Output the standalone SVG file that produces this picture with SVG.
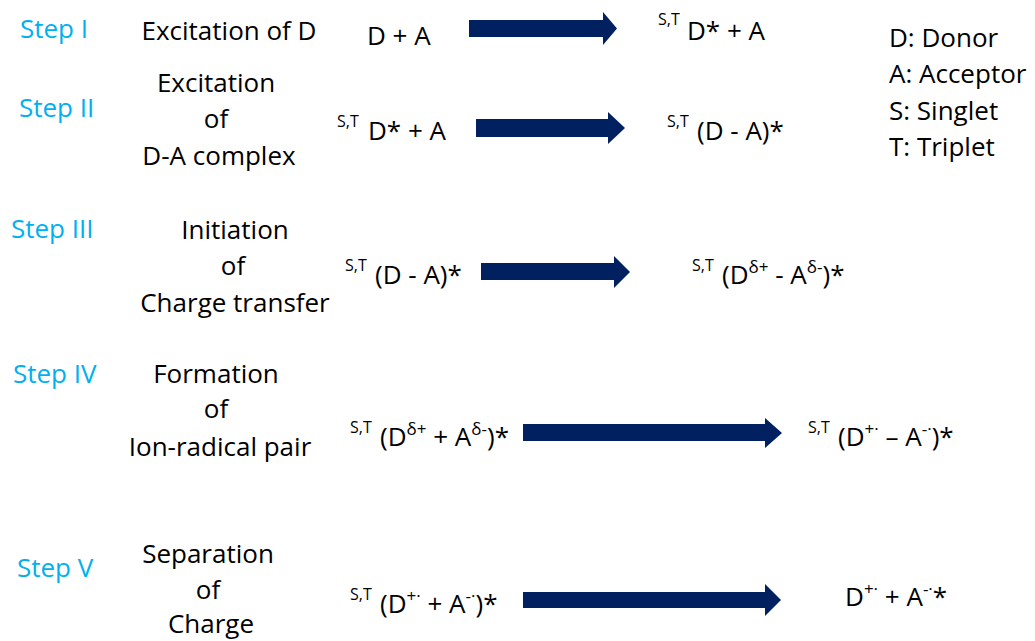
<svg xmlns="http://www.w3.org/2000/svg" width="1035" height="641" viewBox="0 0 1035 641">
<style>
text{font-family:"Open Sans","Noto Sans","Liberation Sans",sans-serif;font-size:26px;fill:#000}
.step{fill:#00B0F0}
.d{text-anchor:middle}
.sup{font-size:16px}
.isup{font-size:17px}
.arrow{fill:#002060}
</style>
<rect width="1035" height="641" fill="#fff"/>
<g id="labels">
<text class="step" x="20" y="38">Step I</text>
<text class="step" x="19" y="117">Step II</text>
<text class="step" x="11" y="238">Step III</text>
<text class="step" x="13" y="383">Step IV</text>
<text class="step" x="17" y="577">Step V</text>
</g>
<g id="desc1"><text class="d" x="229" y="40">Excitation of D</text></g>
<g id="desc2">
<text class="d" x="216" y="92">Excitation</text>
<text class="d" x="216" y="128">of</text>
<text class="d" x="219" y="165">D-A complex</text>
</g>
<g id="desc3">
<text class="d" x="235" y="239">Initiation</text>
<text class="d" x="233" y="275">of</text>
<text class="d" x="235" y="312">Charge transfer</text>
</g>
<g id="desc4">
<text class="d" x="216" y="383">Formation</text>
<text class="d" x="216" y="418">of</text>
<text class="d" x="220" y="456">Ion-radical pair</text>
</g>
<g id="desc5">
<text class="d" x="208" y="563">Separation</text>
<text class="d" x="208" y="599">of</text>
<text class="d" x="211" y="633">Charge</text>
</g>
<g id="legend">
<text x="889" y="47">D: Donor</text>
<text x="889" y="83">A: Acceptor</text>
<text x="889" y="120">S: Singlet</text>
<text x="889" y="156">T: Triplet</text>
</g>
<g id="row1">
<text x="367" y="45">D + A</text>
<text class="sup" x="658" y="25">S,T</text>
<text x="687" y="40">D* + A</text>
</g>
<g id="row2">
<text class="sup" x="337" y="127">S,T</text>
<text x="368" y="140">D* + A</text>
<text class="sup" x="667" y="127">S,T</text>
<text x="697" y="140">(D - A)*</text>
</g>
<g id="row3">
<text class="sup" x="345" y="271">S,T</text>
<text x="375" y="284">(D - A)*</text>
<text class="sup" x="692" y="271">S,T</text>
<text x="722" y="284">(D<tspan class="isup" dy="-11">δ+</tspan><tspan dy="11"> - A</tspan><tspan class="isup" dy="-11">δ-</tspan><tspan dy="11">)*</tspan></text>
</g>
<g id="row4">
<text class="sup" x="350" y="433">S,T</text>
<text x="380" y="446">(D<tspan class="isup" dy="-11">δ+</tspan><tspan dy="11"> + A</tspan><tspan class="isup" dy="-11">δ-</tspan><tspan dy="11">)*</tspan></text>
<text class="sup" x="808" y="433">S,T</text>
<text x="838" y="446">(D<tspan class="isup" dy="-11">+·</tspan><tspan dy="11"> – A</tspan><tspan class="isup" dy="-11">-·</tspan><tspan dy="11">)*</tspan></text>
</g>
<g id="row5">
<text class="sup" x="350" y="600">S,T</text>
<text x="380" y="613">(D<tspan class="isup" dy="-11">+·</tspan><tspan dy="11"> + A</tspan><tspan class="isup" dy="-11">-·</tspan><tspan dy="11">)*</tspan></text>
<text x="845" y="606">D<tspan class="isup" dy="-11">+·</tspan><tspan dy="11"> + A</tspan><tspan class="isup" dy="-11">-·</tspan><tspan dy="11">*</tspan></text>
</g>
<g id="connectors">
<polygon class="arrow" points="469,20 603,20 603,12 617,28.5 603,45 603,37 469,37"/>
<polygon class="arrow" points="476,119 608,119 608,112 625,128 608,144 608,137 476,137"/>
<polygon class="arrow" points="481,263 614,263 614,256 630,272 614,288 614,280 481,280"/>
<polygon class="arrow" points="523,424 765,424 765,418 782,433 765,448 765,441 523,441"/>
<polygon class="arrow" points="523,592 765,592 765,584 781,600 765,616 765,608 523,608"/>
</g>
</svg>
